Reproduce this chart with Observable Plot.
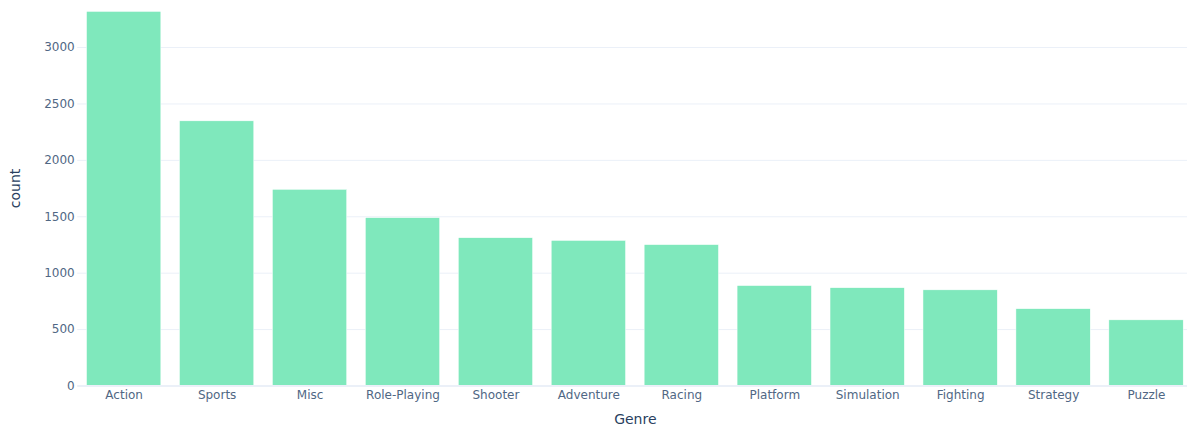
<!DOCTYPE html>
<html>
<head>
<meta charset="utf-8">
<script src="https://cdn.jsdelivr.net/npm/d3@7"></script>
<script src="https://cdn.jsdelivr.net/npm/@observablehq/plot@0.6"></script>
<style>
  html, body { margin: 0; padding: 0; background: #fff; overflow: hidden; }
  #chart svg { display: block; }
</style>
</head>
<body>
<div id="chart"></div>
<script>
const genres = ["Action", "Sports", "Misc", "Role-Playing", "Shooter", "Adventure", "Racing", "Platform", "Simulation", "Fighting", "Strategy", "Puzzle"];
const counts = [3316, 2346, 1739, 1488, 1310, 1286, 1249, 886, 867, 848, 681, 582];
const yTicks = [0, 500, 1000, 1500, 2000, 2500, 3000];

const data = genres.map((g, i) => ({Genre: g, count: counts[i]}));

const chart = Plot.plot({
  width: 1187,
  height: 429,
  marginTop: 0,
  marginBottom: 43.5,
  marginLeft: 77.2,
  marginRight: -5.5,
  style: {fontFamily: "'DejaVu Sans', verdana, arial, sans-serif", fontSize: "12px", color: "#506784", background: "#fff"},
  x: {domain: genres, paddingInner: 0.2, paddingOuter: 0.1, align: 0.5, round: false, label: null},
  y: {domain: [0, 3417], label: null},
  marks: [
    Plot.gridY(yTicks.filter(d => d > 0), {stroke: "#EBF0F8", strokeOpacity: 1, strokeWidth: 1}),
    Plot.barY(data, {x: "Genre", y: "count", fill: "rgb(127,232,188)", stroke: "#fff", strokeWidth: 0.5}),
    Plot.ruleY([0], {stroke: "#EBF0F8", strokeWidth: 2}),
    Plot.axisY({ticks: yTicks, tickFormat: "d", tickSize: 0, tickPadding: 3, label: null, fill: "#506784"}),
    Plot.axisX({tickSize: 0, tickPadding: 4, label: null, fill: "#506784"}),
    Plot.text(["count"], {frameAnchor: "left", dx: -62, dy: 15, rotate: -90, fill: "#2a3f5f", fontSize: 14}),
    Plot.text(["Genre"], {frameAnchor: "bottom", dy: 38, fill: "#2a3f5f", fontSize: 14})
  ]
});
document.getElementById("chart").appendChild(chart);
</script>
</body>
</html>
